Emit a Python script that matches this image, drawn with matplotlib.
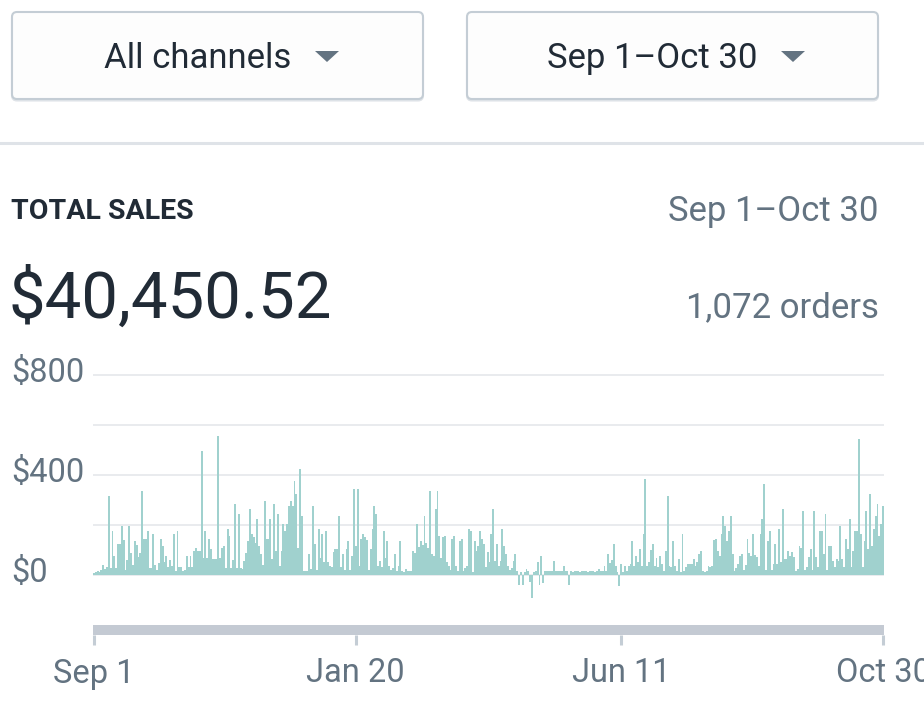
import numpy as np
import pandas as pd
import matplotlib
matplotlib.use("Agg")
import matplotlib.pyplot as plt
from matplotlib.patches import FancyBboxPatch, Polygon
from matplotlib.transforms import IdentityTransform, blended_transform_factory, ScaledTranslation

plt.rcParams['font.family'] = ['Roboto', 'DejaVu Sans']

# daily sales, Sep 1 2019 .. Oct 30 2020
sales_sep_nov = [10, 12, 15, 12, 20, 40, 25, 33, 316, 30, 177, 76, 30, 124, 124, 196, 140, 20, 60, 196,
                 87, 40, 136, 120, 73, 90, 336, 144, 144, 176, 27, 30, 164, 40, 20, 47, 143, 117, 53, 76,
                 33, 60, 36, 164, 15, 176, 33, 33, 15, 20, 76, 33, 76, 33, 97, 107, 97, 97, 496, 67,
                 176, 67, 144, 103, 64, 64, 64, 556, 67, 107, 117, 27, 183, 156, 27, 60, 284, 30, 244, 29,
                 23, 57, 90, 137, 264]
sales_nov_feb = [164, 151, 129, 223, 116, 84, 40, 297, 143, 143, 224, 63, 284, 96, 244, 36, 97, 203, 176, 203,
                 276, 297, 276, 377, 324, 107, 423, 236, 16, 17, 18, 84, 23, 276, 124, 20, 184, 67, 164, 53,
                 177, 53, 36, 31, 93, 104, 104, 236, 33, 84, 20, 104, 136, 20, 76, 344, 116, 344, 36, 144,
                 164, 153, 140, 20, 104, 184, 276, 244, 36, 57, 33, 177, 67, 137, 36, 20, 30, 84, 17, 36,
                 136, 17, 13, 24, 16, 16]
sales_feb_may = [16, 97, 89, 203, 111, 136, 120, 237, 127, 107, 337, 84, 76, 263, 337, 156, 67, 151, 156, 51,
                 36, 20, 144, 156, 36, 17, 136, 144, 17, 27, 36, 184, 177, 13, 136, 97, 116, 177, 144, 124,
                 33, 93, 51, 164, 264, 57, 124, 36, 57, 184, 117, 84, 36, 20, 27, 56, 84, 17, -40, 13,
                 -40, 13, 24, 17, -27, -93, 13, 16, 53, -40, 76, -33, 16, 16, 16, 16, 16, 56, 16, 16,
                 16, 16, 36, 16, 16, -40, 16]
sales_may_aug = [14, 16, 15, 16, 14, 16, 15, 16, 14, 16, 15, 16, 14, 16, 24, 16, 16, 36, 16, 83,
                 49, 60, 124, 36, 13, -43, 43, 13, 36, 16, 36, 43, 136, 36, 76, 53, 103, 36, 164, 383,
                 36, 53, 100, 124, 36, 67, 33, 76, 44, 16, 97, 316, 36, 33, 136, 36, 17, 64, 13, 164,
                 17, 31, 44, 44, 44, 64, 36, 53, 84, 97, 17, 13, 17, 36, 33, 36, 140, 144, 97, 76,
                 164, 236, 196, 137, 177, 236]
sales_aug_oct = [84, 16, 29, 43, 76, 84, 20, 40, 144, 89, 76, 164, 80, 71, 36, 164, 224, 364, 20, 136,
                 177, 20, 44, 124, 44, 184, 53, 264, 64, 64, 97, 76, 93, 73, 17, 23, 116, 107, 256, 20,
                 33, 73, 103, 20, 256, 73, 31, 177, 177, 84, 243, 20, 116, 116, 56, 31, 64, 56, 196, 63,
                 33, 144, 104, 223, 31, 96, 177, 177, 543, 164, 33, 136, 256, 104, 324, 116, 183, 236, 284, 156,
                 204, 276]

start_date = '2019-09-01'
tick_dates = ['2019-09-01', '2020-01-20', '2020-06-11', '2020-10-30']
tick_labels = ['Sep 1', 'Jan 20', 'Jun 11', 'Oct 30']
y_ticks = [0, 400, 800]
y_tick_labels = ['$0', '$400', '$800']
grid_values = [0, 200, 400, 600, 800]

channel_label = 'All channels'
range_label = 'Sep 1–Oct 30'
total_sales = '$40,450.52'
orders_label = '1,072 orders'

sales = np.array(sales_sep_nov + sales_nov_feb + sales_feb_may + sales_may_aug + sales_aug_oct)
days = np.arange(len(sales))
tick_pos = [(pd.Timestamp(d) - pd.Timestamp(start_date)).days for d in tick_dates]

W, H = 924, 703
DARK = '#212b36'
GREY = '#637381'
LINE = '#c4cdd5'

fig = plt.figure(figsize=(W / 100, H / 100), dpi=100, facecolor='white')


def fx(x):
    return x / W


def fy(y):
    return 1 - y / H


def button(x0, x1, y0, y1, label, tri_x):
    shadow = FancyBboxPatch((x0, H - y1 - 1.5), x1 - x0, y1 - y0, boxstyle='round,pad=0,rounding_size=5',
                            fc='#dfe3e8', ec='#dfe3e8', lw=1.5, transform=IdentityTransform())
    box = FancyBboxPatch((x0, H - y1), x1 - x0, y1 - y0, boxstyle='round,pad=0,rounding_size=5',
                         fc='#fdfdfd', ec=LINE, lw=1.5, transform=IdentityTransform())
    fig.add_artist(shadow)
    fig.add_artist(box)
    fig.text(fx((x0 + x1) / 2 - 20), fy(68), label, ha='center', va='baseline', fontsize=25, color=DARK)
    tri = Polygon([[tri_x - 12, H - 51], [tri_x + 12, H - 51], [tri_x, H - 62]], closed=True,
                  fc=GREY, ec='none', transform=IdentityTransform())
    fig.add_artist(tri)


button(12, 423, 12, 99, channel_label, 327)
button(467, 878, 12, 99, range_label, 793)

# divider under the filters
fig.add_artist(plt.Line2D([0, 1], [fy(143), fy(143)], color='#dfe3e8', lw=2.2, transform=fig.transFigure))

fig.text(fx(11), fy(219), 'TOTAL SALES', ha='left', va='baseline', fontsize=20.5, fontweight='bold', color=DARK)
fig.text(fx(879), fy(221), range_label, ha='right', va='baseline', fontsize=25, color=GREY)
fig.text(fx(9), fy(318), total_sales, ha='left', va='baseline', fontsize=47, color=DARK)
fig.text(fx(879), fy(317), orders_label, ha='right', va='baseline', fontsize=25, color=GREY)

# bar chart
ax = fig.add_axes([fx(93), fy(605), fx(884) - fx(93), (605 - 360) / H])
ax.set_xlim(-0.5, len(sales) - 0.5)
ax.set_ylim(-120, 860)
for g in grid_values:
    ax.axhline(g, color='#e3e6ea', lw=1.1, zorder=0)
ax.bar(days, sales, width=1.0, color='#a0d1ce', edgecolor='none', zorder=2)
ax.axis('off')

lab_tr = blended_transform_factory(fig.transFigure, ax.transData) + ScaledTranslation(0, 2 / 100, fig.dpi_scale_trans)
for v, lab in zip(y_ticks, y_tick_labels):
    ax.text(fx(11), v, lab, transform=lab_tr, ha='left', va='center', fontsize=23.5, color=GREY)

# range bar with date ticks
ax2 = fig.add_axes([fx(93), fy(635), fx(884) - fx(93), 10 / H])
ax2.set_xlim(-0.5, len(sales) - 0.5)
ax2.set_ylim(0, 1)
ax2.set_facecolor('#c4cad3')
for s in ax2.spines.values():
    s.set_visible(False)
ax2.set_yticks([])
ax2.set_xticks(tick_pos)
ax2.set_xticklabels(tick_labels)
ax2.tick_params(axis='x', direction='out', length=7.2, width=2.2, color=LINE,
                labelsize=23.5, labelcolor=GREY, pad=9)

fig.savefig('out.png', dpi=100, facecolor='white')
